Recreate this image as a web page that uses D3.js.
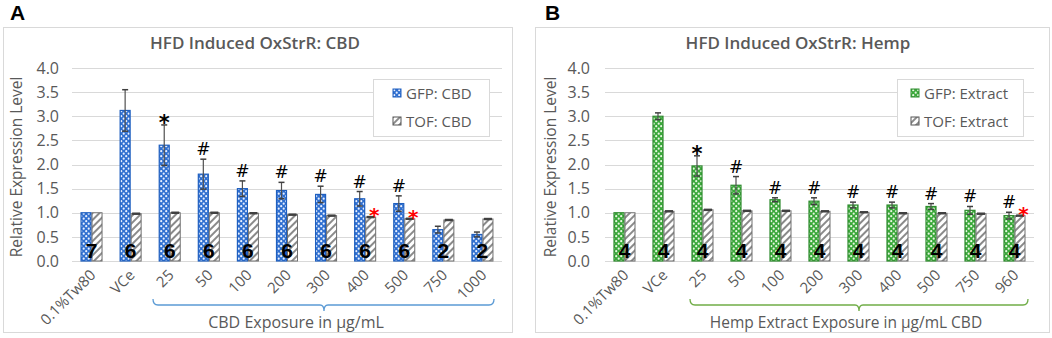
<!DOCTYPE html>
<html>
<head>
<meta charset="utf-8">
<script src="https://cdn.jsdelivr.net/npm/d3@7"></script>
<style>
  body { margin: 0; background: #fff; }
  svg { display: block; font-family: "Open Sans", sans-serif; }
</style>
</head>
<body>
<svg id="my_svg"></svg>
<script>
const width = 1052;
const height = 338;

// data
const cbdCategories = ["0.1%Tw80", "VCe", "25", "50", "100", "200", "300", "400", "500", "750", "1000"];
const cbdGfp = [1.0, 3.12, 2.40, 1.80, 1.50, 1.46, 1.38, 1.29, 1.19, 0.65, 0.55];
const cbdGfpErr = [0, 0.43, 0.42, 0.31, 0.16, 0.17, 0.17, 0.15, 0.16, 0.07, 0.05];
const cbdTof = [1.0, 0.98, 1.0, 1.0, 0.99, 0.96, 0.94, 0.91, 0.875, 0.85, 0.87];
const cbdTofErr = [0, 0.01, 0.01, 0.01, 0.01, 0.01, 0.01, 0.01, 0.01, 0.01, 0.01];
const cbdN = ["7", "6", "6", "6", "6", "6", "6", "6", "6", "2", "2"];
const cbdMarks = ["", "", "*", "#", "#", "#", "#", "#", "#", "", ""];
const cbdRed = [false, false, false, false, false, false, false, true, true, false, false];

const hempCategories = ["0.1%Tw80", "VCe", "25", "50", "100", "200", "300", "400", "500", "750", "960"];
const hempGfp = [1.0, 3.0, 1.97, 1.57, 1.27, 1.24, 1.16, 1.16, 1.13, 1.05, 0.94];
const hempGfpErr = [0, 0.07, 0.21, 0.18, 0.04, 0.07, 0.06, 0.06, 0.06, 0.08, 0.07];
const hempTof = [1.0, 1.03, 1.06, 1.04, 1.04, 1.03, 1.01, 0.99, 0.99, 0.98, 0.94];
const hempTofErr = [0, 0.01, 0.01, 0.01, 0.01, 0.01, 0.01, 0.01, 0.01, 0.01, 0.01];
const hempN = ["4", "4", "4", "4", "4", "4", "4", "4", "4", "4", "4"];
const hempMarks = ["", "", "*", "#", "#", "#", "#", "#", "#", "#", "#"];
const hempRed = [false, false, false, false, false, false, false, false, false, false, true];

const yTicks = [0, 0.5, 1.0, 1.5, 2.0, 2.5, 3.0, 3.5, 4.0];

const textGrey = '#595959';

const svg = d3.select('#my_svg')
  .attr('width', width)
  .attr('height', height);

// patterns: dotted colour fill for GFP, hatch for TOF
const defs = svg.append('defs');
function dotPattern(id, bg, dot) {
  const p = defs.append('pattern')
    .attr('id', id)
    .attr('patternUnits', 'userSpaceOnUse')
    .attr('width', 5)
    .attr('height', 5);
  p.append('rect').attr('width', 5).attr('height', 5).attr('fill', bg);
  p.append('circle').attr('cx', 1.2).attr('cy', 1.2).attr('r', 1.1).attr('fill', dot);
  p.append('circle').attr('cx', 3.7).attr('cy', 3.7).attr('r', 1.1).attr('fill', dot);
}
dotPattern('dotsBlue', '#2f6fd0', '#e8f0ff');
dotPattern('dotsGreen', '#3aa83a', '#e6f7e0');

const hatch = defs.append('pattern')
  .attr('id', 'hatch')
  .attr('patternUnits', 'userSpaceOnUse')
  .attr('width', 5)
  .attr('height', 5)
  .attr('patternTransform', 'rotate(45)');
hatch.append('rect').attr('width', 5).attr('height', 5).attr('fill', '#fff');
hatch.append('rect').attr('width', 2).attr('height', 5).attr('fill', '#8a8a8a');

function drawPanel(opt) {
  const g = svg.append('g');

  // frame
  g.append('rect')
    .attr('x', opt.frame[0] + 0.5)
    .attr('y', 27.5)
    .attr('width', opt.frame[1] - opt.frame[0])
    .attr('height', 305)
    .attr('fill', '#fff')
    .attr('stroke', '#d9d9d9');

  // panel letter
  g.append('text')
    .attr('x', opt.letterX)
    .attr('y', 20)
    .attr('font-family', 'Liberation Sans, Arial, sans-serif')
    .attr('font-weight', 'bold')
    .attr('font-size', 21)
    .text(opt.letter);

  // title
  g.append('text')
    .attr('x', opt.titleX)
    .attr('y', 49)
    .attr('text-anchor', 'middle')
    .attr('font-weight', 600)
    .attr('font-size', 17)
    .attr('fill', textGrey)
    .text(opt.title);

  const x = d3.scaleBand()
    .domain(opt.categories)
    .range(opt.xRange);
  const y = d3.scaleLinear()
    .domain([0, 4])
    .range([261, 68]);

  // grid
  g.append('g')
    .selectAll('line')
    .data(yTicks)
    .enter()
    .append('line')
    .attr('x1', opt.xRange[0])
    .attr('x2', opt.xRange[1])
    .attr('y1', (d) => Math.round(y(d)) + 0.5)
    .attr('y2', (d) => Math.round(y(d)) + 0.5)
    .attr('stroke', '#d9d9d9');

  // y axis labels
  const yAxis = d3.axisLeft(y)
    .tickValues(yTicks)
    .tickFormat(d3.format('.1f'))
    .tickSize(0)
    .tickPadding(0);
  const yg = g.append('g')
    .attr('transform', `translate(${opt.yLabelX}, 0)`)
    .call(yAxis);
  yg.select('.domain').remove();
  yg.selectAll('text')
    .attr('font-family', '"Open Sans", sans-serif')
    .attr('font-size', 16)
    .attr('fill', textGrey);

  // y axis title
  g.append('text')
    .attr('transform', `translate(${opt.yTitleX}, 167) rotate(-90)`)
    .attr('text-anchor', 'middle')
    .attr('font-size', 15.5)
    .attr('fill', textGrey)
    .text('Relative Expression Level');

  const rows = opt.categories.map((c, i) => ({
    c: c, gfp: opt.gfp[i], gfpErr: opt.gfpErr[i], tof: opt.tof[i], tofErr: opt.tofErr[i],
    n: opt.n[i], mark: opt.marks[i], red: opt.red[i]
  }));
  const cx = (d) => x(d.c) + x.bandwidth() / 2;

  const grp = g.append('g').selectAll('g')
    .data(rows)
    .enter()
    .append('g');

  grp.append('rect')
    .attr('x', (d) => cx(d) - 10.5)
    .attr('y', (d) => y(d.gfp))
    .attr('width', 10)
    .attr('height', (d) => y(0) - y(d.gfp))
    .attr('fill', `url(#${opt.dots})`)
    .attr('stroke', opt.border)
    .attr('stroke-width', 1.2);

  grp.append('rect')
    .attr('x', (d) => cx(d) + 0.5)
    .attr('y', (d) => y(d.tof))
    .attr('width', 10)
    .attr('height', (d) => y(0) - y(d.tof))
    .attr('fill', 'url(#hatch)')
    .attr('stroke', '#6f6f6f')
    .attr('stroke-width', 1);

  // error bars
  function errorBar(sel, off, val, err, w) {
    const e = sel.filter((d) => d[err] > 0);
    e.append('line')
      .attr('x1', (d) => cx(d) + off)
      .attr('x2', (d) => cx(d) + off)
      .attr('y1', (d) => y(d[val] - d[err]))
      .attr('y2', (d) => y(d[val] + d[err]))
      .attr('stroke', '#505050')
      .attr('stroke-width', 1.2);
    [1, -1].forEach((s) => {
      e.append('line')
        .attr('x1', (d) => cx(d) + off - w)
        .attr('x2', (d) => cx(d) + off + w)
        .attr('y1', (d) => y(d[val] + s * d[err]))
        .attr('y2', (d) => y(d[val] + s * d[err]))
        .attr('stroke', '#404040')
        .attr('stroke-width', 1.5);
    });
  }
  errorBar(grp, -5.5, 'gfp', 'gfpErr', 3);
  errorBar(grp, 5.5, 'tof', 'tofErr', 4);

  // n labels
  grp.append('text')
    .attr('x', cx)
    .attr('y', 258)
    .attr('text-anchor', 'middle')
    .attr('font-family', 'Liberation Sans, Arial, sans-serif')
    .attr('font-weight', 'bold')
    .attr('font-size', 21)
    .attr('fill', '#000')
    .text((d) => d.n);

  // significance marks
  grp.filter((d) => d.mark === '#')
    .append('text')
    .attr('x', (d) => cx(d) - 5.5)
    .attr('y', (d) => y(d.gfp + d.gfpErr) - 4)
    .attr('text-anchor', 'middle')
    .attr('font-family', '"DejaVu Sans", sans-serif')
    .attr('font-size', 17)
    .attr('fill', '#000')
    .text('#');
  grp.filter((d) => d.mark === '*')
    .append('text')
    .attr('x', (d) => cx(d) - 5.5)
    .attr('y', (d) => y(d.gfp + d.gfpErr) + 5)
    .attr('text-anchor', 'middle')
    .attr('font-family', '"DejaVu Sans", sans-serif')
    .attr('font-weight', 'bold')
    .attr('font-size', 21)
    .attr('fill', '#000')
    .text('*');
  grp.filter((d) => d.red)
    .append('text')
    .attr('x', (d) => cx(d) + 9)
    .attr('y', (d) => y(d.tof) + 5)
    .attr('text-anchor', 'middle')
    .attr('font-family', '"DejaVu Sans", sans-serif')
    .attr('font-weight', 'bold')
    .attr('font-size', 20)
    .attr('fill', '#ff0000')
    .text('*');

  // x tick labels, rotated
  grp.append('text')
    .attr('transform', (d) => `translate(${cx(d) + 5}, 276) rotate(-45)`)
    .attr('text-anchor', 'end')
    .attr('font-size', 15)
    .attr('fill', textGrey)
    .text((d) => d.c);

  // bracket under the doses
  const bx0 = opt.bracket[0], bx1 = opt.bracket[1], bm = opt.bracket[2];
  g.append('path')
    .attr('d', `M${bx0},299 Q${bx0},305 ${bx0 + 5},305 L${bm - 4},305 Q${bm},305 ${bm},311 Q${bm},305 ${bm + 4},305 L${bx1 - 5},305 Q${bx1},305 ${bx1},299`)
    .attr('fill', 'none')
    .attr('stroke', opt.bracketColor)
    .attr('stroke-width', 1.3);

  g.append('text')
    .attr('x', opt.xTitleX)
    .attr('y', 328)
    .attr('text-anchor', 'middle')
    .attr('font-size', opt.xTitleSize)
    .attr('fill', textGrey)
    .text(opt.xTitle);

  // legend
  const lg = g.append('g')
    .attr('transform', `translate(${opt.legend[0]}, ${opt.legend[1]})`);
  lg.append('rect')
    .attr('x', 0.5)
    .attr('y', 0.5)
    .attr('width', opt.legend[2])
    .attr('height', 57)
    .attr('fill', '#fff')
    .attr('stroke', '#d9d9d9');
  const items = [
    { label: opt.legendLabels[0], fill: `url(#${opt.dots})`, stroke: opt.border },
    { label: opt.legendLabels[1], fill: 'url(#hatch)', stroke: '#555' }
  ];
  items.forEach((it, i) => {
    lg.append('rect')
      .attr('x', opt.legendSw)
      .attr('y', 10 + i * 28)
      .attr('width', 8)
      .attr('height', 8)
      .attr('fill', it.fill)
      .attr('stroke', it.stroke);
    lg.append('text')
      .attr('x', opt.legendSw + 13)
      .attr('y', 20 + i * 28)
      .attr('font-size', 15)
      .attr('fill', textGrey)
      .text(it.label);
  });
}

drawPanel({
  frame: [3, 512], letter: 'A', letterX: 10, title: 'HFD Induced OxStrR: CBD', titleX: 255,
  categories: cbdCategories, gfp: cbdGfp, gfpErr: cbdGfpErr, tof: cbdTof, tofErr: cbdTofErr,
  n: cbdN, marks: cbdMarks, red: cbdRed,
  xRange: [72, 502], yLabelX: 59, yTitleX: 22,
  dots: 'dotsBlue', border: '#1f5fbf',
  bracket: [153, 494, 324], bracketColor: '#5b9bd5',
  xTitle: 'CBD Exposure in µg/mL', xTitleX: 296, xTitleSize: 16,
  legend: [373, 79, 116], legendSw: 20, legendLabels: ['GFP: CBD', 'TOF: CBD']
});

drawPanel({
  frame: [535, 1049], letter: 'B', letterX: 545, title: 'HFD Induced OxStrR: Hemp', titleX: 798,
  categories: hempCategories, gfp: hempGfp, gfpErr: hempGfpErr, tof: hempTof, tofErr: hempTofErr,
  n: hempN, marks: hempMarks, red: hempRed,
  xRange: [605, 1034], yLabelX: 590, yTitleX: 556,
  dots: 'dotsGreen', border: '#2e8b2e',
  bracket: [690, 1028, 859], bracketColor: '#70ad47',
  xTitle: 'Hemp Extract Exposure in µg/mL CBD', xTitleX: 846, xTitleSize: 15.5,
  legend: [897, 79, 126], legendSw: 14, legendLabels: ['GFP: Extract', 'TOF: Extract']
});
</script>
</body>
</html>
